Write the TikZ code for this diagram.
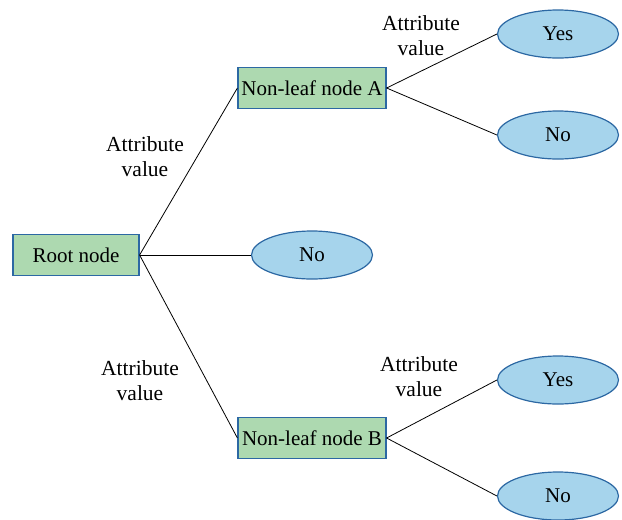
\documentclass[tikz,border=0pt]{standalone}
\usepackage{fontspec}
\setmainfont{Liberation Serif}
\usetikzlibrary{shapes.geometric}
\definecolor{boxfill}{HTML}{ADD9B0}
\definecolor{ellfill}{HTML}{A6D4EC}
\definecolor{edgeblue}{HTML}{2C68A3}
\begin{document}
\begin{tikzpicture}[x=1pt,y=-1pt,
  font=\fontsize{21}{24}\selectfont,
  inner node/.style={draw=edgeblue,fill=boxfill,line width=1.2pt,minimum height=41pt,inner sep=2pt},
  leaf/.style={ellipse,draw=edgeblue,fill=ellfill,line width=1.2pt,minimum width=121pt,minimum height=48pt,inner sep=0pt},
  label text/.style={align=center,font=\fontsize{21.5}{25}\selectfont},
  link/.style={line width=0.8pt}]
\useasboundingbox (0,0) rectangle (622,520);
% tree nodes
\node[inner node,minimum width=148pt] (A) at (312,88) {Non-leaf node A};
\node[inner node,minimum width=148pt] (B) at (312,438) {Non-leaf node B};
\node[inner node,minimum width=126pt] (root) at (76,255) {Root node};
\node[leaf] (mid) at (312,255) {No};
\node[leaf] (ay) at (558,34) {Yes};
\node[leaf] (an) at (558,135) {No};
\node[leaf] (by) at (558,380) {Yes};
\node[leaf] (bn) at (558,496) {No};
% connectors
\draw[link] (root.east) -- (A.west);
\draw[link] (root.east) -- (mid.west);
\draw[link] (root.east) -- (B.west);
\draw[link] (A.east) -- (ay.west);
\draw[link] (A.east) -- (an.west);
\draw[link] (B.east) -- (by.west);
\draw[link] (B.east) -- (bn.west);
% edge labels
\node[label text] (l1) at (145,157) {Attribute\\value};
\node[label text] (l2) at (421,36) {Attribute\\value};
\node[label text] (l3) at (140,381) {Attribute\\value};
\node[label text] (l4) at (419,377) {Attribute\\value};
\end{tikzpicture}
\end{document}
